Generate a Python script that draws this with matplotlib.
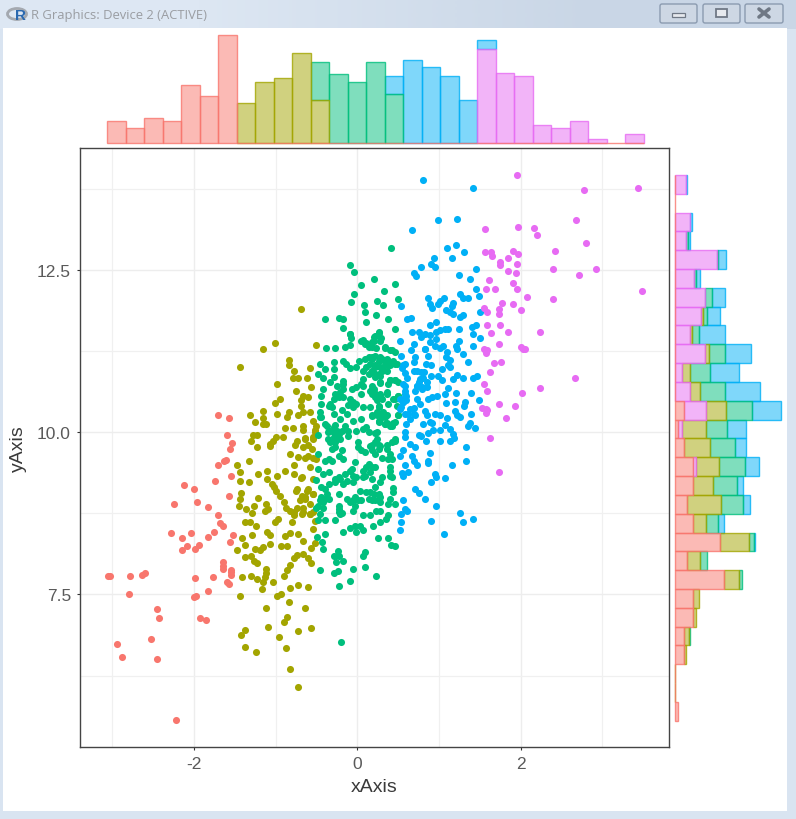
import numpy as np
from matplotlib import pyplot as plt
from matplotlib.colors import to_rgba, LinearSegmentedColormap
from matplotlib.patches import Rectangle, FancyBboxPatch, Ellipse

plt.rcParams['font.family'] = ['Liberation Sans', 'DejaVu Sans']
plt.rcParams['axes.unicode_minus'] = False

# groups, ggplot hue colours
colors = {"red": "#F8766D", "olive": "#A3A500", "green": "#00BF7D", "blue": "#00B0F6", "pink": "#E76BF3"}

red_pts = [(-3.05,7.79),(-3.03,7.79),(-2.78,7.79),(-2.64,7.80),(-2.60,7.83),(-2.80,7.50),(-2.45,7.27),(-2.43,7.14),(-2.94,6.73),(-2.88,6.54),
 (-2.53,6.81),(-2.45,6.50),(-2.22,5.56),(-1.93,7.14),(-1.85,7.10),(-2.00,7.46),(-1.97,7.48),(-1.83,7.56),(-1.99,7.75),(-1.77,7.77),
 (-1.59,7.70),(-1.57,7.66),(-1.54,7.87),(-1.54,7.80),(-1.54,7.84),(-1.64,8.00),(-1.64,7.90),(-1.64,7.94),(-2.15,8.18),(-2.08,8.24),
 (-1.99,8.20),(-1.94,8.26),(-2.15,8.37),(-2.28,8.45),(-2.03,8.45),(-1.83,8.39),(-1.76,8.47),(-1.56,8.31),(-1.52,8.41),(-1.64,8.55),
 (-1.68,8.60),(-1.71,8.72),(-2.24,8.89),(-1.96,8.93),(-1.83,8.85),(-1.57,9.02),(-2.12,9.18),(-2.00,9.12),(-1.74,9.25),(-1.54,9.33),
 (-1.71,9.49),(-1.63,9.56),(-1.61,9.58),(-1.56,9.74),(-1.70,10.26),(-1.57,10.22),(-1.59,9.95),(-1.53,9.84)]

olive_pts = [(-1.47,9.49),(-1.44,9.39),(-1.44,9.25),(-1.33,9.55),(-1.33,9.24),(-1.21,9.35),(-1.10,9.41),(-1.10,9.28),(-0.98,9.33),(-0.89,9.41),
 (-0.82,9.67),(-0.72,9.62),(-0.78,9.49),(-0.78,9.35),(-0.69,9.29),(-1.05,9.20),(-1.02,9.15),(-0.99,9.10),(-1.42,9.07),(-1.45,8.87),
 (-1.44,8.97),(-1.36,8.81),(-1.29,8.76),(-1.27,8.87),(-1.22,8.99),(-1.12,8.90),(-1.13,8.78),(-1.09,8.82),(-0.95,9.01),(-0.90,8.92),
 (-0.87,8.84),(-0.82,8.79),(-0.78,8.77),(-0.74,8.84),(-0.70,8.95),(-0.64,9.00),(-0.60,9.13),(-0.74,9.13),(-0.75,9.09),(-0.54,9.05),
 (-0.58,8.74),(-0.66,8.77),(-0.78,8.72),(-0.80,8.62),(-0.97,8.66),(-1.01,8.62),(-1.38,8.62),(-1.31,8.62),(-1.24,8.55),(-1.29,8.42),
 (-1.10,8.46),(-1.07,8.41),(-1.41,8.37),(-1.38,8.27),(-1.47,8.18),(-1.25,8.20),(-1.19,8.18),(-1.15,8.23),(-1.07,8.28),(-0.93,8.24),
 (-0.86,8.24),(-0.89,8.40),(-0.82,8.45),(-0.72,8.43),(-0.66,8.33),(-0.54,8.51),(-0.52,8.30),(-0.57,8.21),(-0.78,8.06),(-0.74,8.11),
 (-0.67,8.12),(-0.60,8.07),(-0.57,7.98),(-1.38,8.08),(-1.30,8.09),(-1.27,8.02),(-1.23,7.98),(-1.12,7.90),(-1.12,7.83),(-1.41,7.77),
 (-1.30,7.78),(-1.23,7.74),(-1.13,7.77),(-1.16,7.69),(-1.17,7.59),(-1.03,7.69),(-0.90,7.79),(-0.86,7.87),(-0.82,7.96),(-0.82,7.60),
 (-0.73,7.64),(-0.60,7.62),(-1.44,7.48),(-0.98,7.47),(-0.93,7.51),(-0.84,7.39),(-1.12,7.29),(-0.64,7.29),(-0.86,7.16),(-0.90,7.08),
 (-1.09,7.00),(-0.72,6.94),(-0.57,6.98),(-1.38,6.96),(-1.42,6.87),(-0.96,6.85),(-1.38,6.69),(-1.24,6.62),(-0.87,6.67),(-0.82,6.35),
 (-0.73,6.08),
 (-0.69,11.90),(-1.01,11.38),(-1.15,11.28),(-0.51,11.34),(-1.44,11.01),(-0.84,11.11),(-0.83,11.04),(-0.78,10.95),(-0.58,10.99),(-0.79,10.84),
 (-0.72,10.84),(-0.61,10.84),(-0.98,10.74),(-0.57,10.70),(-0.75,10.63),(-0.95,10.51),(-1.01,10.45),(-0.67,10.56),(-0.60,10.55),(-0.69,10.49),
 (-0.69,10.41),(-1.16,10.33),(-0.98,10.28),(-1.31,10.26),(-1.16,10.22),(-1.25,10.16),(-1.16,10.12),(-1.12,10.12),(-0.84,10.31),(-0.86,10.23),
 (-0.72,10.27),(-0.66,10.31),(-0.58,10.31),(-0.54,10.18),(-0.51,10.10),(-0.67,10.10),(-0.67,10.04),(-0.89,10.07),(-0.79,10.07),(-0.52,10.00),
 (-0.54,9.90),(-0.64,9.91),(-1.23,9.96),(-1.28,9.95),(-1.30,9.86),(-1.07,9.82),(-0.99,9.92),(-0.91,9.92),(-1.03,9.86),(-0.74,9.87),
 (-0.76,9.80),(-0.60,9.81),(-1.23,9.77),(-1.07,9.79),
 (-0.52,10.03),(-0.54,9.92),(-0.64,9.90),(-0.66,9.77),(-0.56,9.74),(-0.60,9.64),(-0.54,9.61),(-0.64,9.61),(-0.50,9.59),(-0.58,9.46),
 (-0.68,9.31),(-0.54,9.28),(-0.62,9.10),(-0.54,9.05),(-0.68,9.02),(-0.64,8.97),(-0.66,8.84),(-0.58,8.90),(-0.58,8.74),(-0.68,8.74),
 (-0.54,8.77),(-0.52,8.64)]

green_pts = [(-0.09,12.57),(-0.04,12.47),(0.21,12.36),(0.05,12.27),(-0.04,12.13),(-0.08,12.01),(0.08,11.96),(0.09,11.86),(0.24,12.03),(0.23,11.80),
 (-0.39,11.74),(-0.23,11.76),(-0.18,11.74),(0.11,11.70),(-0.18,11.61),(-0.09,11.52),(-0.08,11.45),(0.07,11.42),(0.11,11.38),(0.22,11.49),
 (0.26,11.53),(0.20,11.40),(-0.38,11.30),(-0.27,11.30),(-0.15,11.32),(-0.09,11.34),(0.18,11.31),(0.23,11.30),
 (0.41,12.84),(0.46,12.28),(0.33,12.17),(0.50,12.05),(0.32,11.96),(0.37,11.74),(0.46,11.59),(0.29,11.45),(0.34,11.30),(0.40,11.26),
 (0.46,11.24),(0.18,11.16),(0.28,11.16),(0.36,11.13),(0.44,11.10),(0.48,11.05),(0.38,11.03),(0.22,11.03),(0.30,10.97),(0.18,10.95),
 (0.28,10.87),(0.20,10.92),(0.40,10.80),(0.46,10.80),(0.50,10.77),(0.28,10.76),(0.38,10.74),(0.20,10.67),(0.18,10.59),(0.28,10.59),
 (0.36,10.59),(0.44,10.51),(0.50,10.56),(0.24,10.49),(0.38,10.44),(0.48,10.41),(0.26,10.41),(0.32,10.31),(0.18,10.26),(0.24,10.26),
 (0.36,10.26),(0.50,10.26),(0.26,10.16),(0.34,10.13),(0.42,10.10),(0.46,10.16),(0.22,9.99),(0.46,9.90),(0.42,9.85),(0.26,9.80),
 (0.18,9.80),(0.36,9.80),
 (-0.46,11.05),(-0.40,10.97),(-0.29,11.09),(-0.17,11.10),(-0.14,11.05),(0.02,11.10),(-0.28,10.97),(-0.48,10.90),(-0.42,10.84),(-0.09,10.99),
 (-0.01,11.00),(-0.29,10.85),(-0.33,10.77),(-0.17,10.79),(0.07,10.95),(0.07,10.82),(-0.25,10.71),(-0.17,10.67),(-0.07,10.67),(-0.01,10.69),
 (0.07,10.71),(-0.42,10.66),(-0.44,10.56),(-0.27,10.59),(-0.23,10.54),(-0.17,10.54),(0.05,10.59),(0.18,10.72),(0.20,10.62),(-0.09,10.51),
 (-0.45,10.44),(-0.33,10.44),(-0.31,10.39),(-0.11,10.42),(-0.01,10.44),(-0.05,10.39),(0.07,10.39),(0.16,10.39),(-0.19,10.35),(-0.46,10.31),
 (-0.29,10.28),(-0.13,10.28),(-0.44,10.23),(-0.21,10.21),(-0.05,10.18),(0.05,10.21),(0.18,10.25),(-0.37,10.10),(-0.27,10.11),(-0.15,10.10),
 (0.11,10.08),(-0.33,10.02),(-0.19,10.02),(-0.01,10.02),(-0.48,9.95),(-0.25,9.95),(-0.11,9.94),(0.24,10.00),
 (0.14,11.31),(0.18,11.39),(0.26,11.54),(0.20,11.46),(-0.09,11.51),(0.05,11.41),(0.09,11.36),(0.28,11.41),(0.34,11.31),(0.42,11.26),
 (0.14,11.16),(0.22,11.18),(0.30,11.13),(0.38,11.10),(0.46,11.05),(0.16,11.05),(0.22,11.00),(0.32,11.00),(0.40,11.03),(0.14,10.90),
 (0.26,10.90),(0.30,10.95),(0.40,10.80),(0.46,10.80),(0.28,10.77),(0.36,10.62),(0.26,10.56),(0.30,10.51),(0.46,10.51),(0.50,10.56),
 (0.26,10.39),(0.28,10.28),(0.34,10.23),(0.50,10.26),(0.44,10.15),(0.34,10.13),(0.24,10.28),
 (-0.36,10.00),(-0.29,9.92),(-0.21,9.90),(-0.33,9.85),(-0.27,9.77),(-0.19,9.72),(-0.17,9.59),(-0.31,9.56),(-0.40,9.56),(-0.48,9.67),
 (0.01,9.85),(0.05,9.72),(0.16,9.79),(0.22,9.67),(0.28,9.79),(0.14,10.00),(0.24,9.90),(0.36,9.74),(0.46,9.87),(0.42,9.59),
 (0.30,9.61),(-0.03,9.54),(0.14,9.51),(0.22,9.46),(0.07,9.41),(0.40,9.46),(-0.48,9.43),(-0.35,9.38),(-0.09,9.41),(-0.15,9.36),
 (-0.23,9.31),(-0.42,9.36),(-0.50,9.26),(-0.27,9.23),(-0.01,9.31),(0.09,9.33),(0.18,9.28),(0.30,9.31),(0.40,9.33),(-0.05,9.23),
 (0.28,9.23),(-0.35,9.20),(-0.44,9.15),(-0.17,9.20),(0.22,9.15),(0.03,9.10),(0.44,9.14),(-0.23,9.05),(-0.37,9.05),(0.11,9.08),
 (0.26,9.05),(0.44,9.08),(-0.46,8.95),(-0.35,8.97),(-0.13,8.97),(-0.03,9.00),(0.14,8.97),(-0.09,8.92),(0.05,8.95),(0.22,8.95),
 (0.40,8.97),(0.28,8.92),(-0.42,8.84),(-0.50,8.84),(-0.23,8.87),(-0.03,8.87),(0.46,8.90),(0.38,8.90),(-0.05,8.79),(-0.23,8.77),
 (-0.19,8.76),(-0.46,8.74),(0.07,8.73),(0.16,8.73),(0.23,8.78),(0.28,8.79),(0.37,8.73),(0.35,8.66),(-0.40,8.65),(-0.48,8.65),
 (-0.27,8.65),(0.28,8.61),(0.19,8.56),(-0.09,8.53),(-0.03,8.56),(0.03,8.56),(0.07,8.50),(-0.17,8.47),(-0.02,8.46),(-0.40,8.43),
 (-0.49,8.39),(0.25,8.37),(0.37,8.37),(-0.43,8.31),(-0.42,8.20),(0.41,8.26),(0.46,8.24),(-0.24,8.17),(-0.29,8.09),(-0.23,8.10),
 (0.10,8.16),(0.07,8.10),(-0.17,8.02),(-0.26,8.00),(0.09,7.93),(-0.05,7.89),(-0.24,7.86),(-0.29,7.83),(-0.46,7.87),(0.23,7.78),
 (-0.09,7.71),(-0.23,7.63),(-0.20,6.77),
 (0.09,11.13),(0.18,11.13),(0.26,11.10),(0.34,11.08),(0.11,11.00),(0.28,11.00),(0.36,10.95),(0.18,10.95),(0.22,10.85),(0.05,10.74),
 (0.16,10.64),(0.22,10.54),(0.28,10.56),(0.18,10.67),(-0.17,10.74),(-0.21,10.62),(-0.29,10.51),(-0.35,10.41),(0.24,10.31),(0.30,10.23),
 (0.36,10.15),(0.26,10.18),(0.40,10.10),(-0.05,10.46),(-0.46,10.23),(-0.40,10.13),(-0.29,10.08),(-0.25,10.02),(0.07,10.05),(-0.11,10.02),
 (-0.29,10.00),(-0.23,9.97),(-0.36,9.90),(-0.27,9.85),(-0.31,9.74),(-0.23,9.64),(-0.35,9.59),(0.01,9.77),(0.09,9.69),(0.18,9.72),
 (0.26,9.74),(0.22,9.85),(0.40,9.67),(0.38,9.59),(0.11,9.46),(0.18,9.46),(0.16,9.38),(0.07,9.31),(-0.07,9.43),(-0.05,9.33),
 (-0.13,9.25),(-0.21,9.28),(-0.27,9.28),(-0.40,9.13),(-0.44,9.00),(-0.40,8.97),(-0.42,8.92),(-0.48,8.87),(-0.05,8.95),(0.01,8.95),
 (0.16,9.08),(0.20,9.05),(0.18,8.95),(0.26,8.95),(0.28,9.00),(0.40,9.41),(0.42,9.31),(-0.23,8.82),(-0.21,8.74)]

blue_pts = [(0.81,13.88),(1.41,13.76),(0.99,13.27),(1.22,13.28),(0.67,13.11),(1.10,12.84),(1.21,12.88),(1.30,12.78),(0.94,12.69),(1.16,12.69),
 (0.78,12.55),(0.90,12.59),(0.95,12.55),(1.45,12.51),(0.69,12.46),(0.72,12.40),(1.24,12.43),(1.38,12.36),(1.45,12.21),(0.87,12.07),
 (1.06,12.07),(1.26,12.13),(1.29,12.07),(1.36,12.07),(1.49,12.10),(0.53,11.94),(0.89,11.98),(0.92,11.92),(0.99,11.97),(1.01,12.02),
 (1.17,11.99),(1.16,11.94),(1.09,11.88),(1.13,11.85),(1.17,11.82),(1.26,11.78),(1.29,11.80),(1.50,11.86),(0.61,11.74),(0.66,11.76),
 (0.96,11.70),(0.89,11.65),(1.45,11.66),(1.40,11.62),(1.07,11.59),(1.11,11.59),(1.01,11.57),(1.24,11.59),(0.67,11.55),(0.75,11.54),
 (0.78,11.47),(0.83,11.52),(0.89,11.50),(0.96,11.55),(1.41,11.52),(1.50,11.45),(0.52,11.40),(0.69,11.36),(0.89,11.39),(0.96,11.44),
 (0.95,11.33),(1.01,11.30),(1.05,11.33),(1.24,11.40),(1.21,11.33),(1.22,11.28),(1.41,11.33),(0.66,11.26),(0.83,11.28),(1.10,11.24),
 (1.29,11.20),(0.53,11.17),(0.71,11.16),(0.87,11.17),(1.09,11.16),(0.69,11.08),(0.84,11.05),(0.90,11.03),(1.13,11.11),(1.11,11.03),
 (1.36,11.09),(0.58,11.05),(0.55,10.99),(1.04,10.97),(1.13,11.00),(0.69,10.95),(0.78,10.93),(0.82,10.93),(0.58,10.91),(0.61,10.84),
 (0.90,10.87),(0.99,10.86),(1.22,10.88),(1.17,10.82),(1.29,10.83),(1.41,10.84),(1.47,10.86),(0.81,10.83),(0.75,10.77),(0.85,10.77),
 (1.04,10.80),(0.56,10.74),(0.73,10.71),(0.79,10.69),(0.58,10.64),(0.71,10.64),(0.85,10.69),(1.11,10.68),(1.07,10.59),(1.21,10.60),
 (1.39,10.60),(0.87,10.51),(0.92,10.54),(0.97,10.56),(0.58,10.54),(0.60,10.49),(0.73,10.51),(0.56,10.46),(0.77,10.44),(1.09,10.45),
 (1.20,10.47),(1.32,10.47),(1.49,10.49),(1.31,10.41),(0.52,10.36),(0.69,10.38),(0.83,10.33),(1.20,10.33),(0.62,10.28),(0.71,10.26),
 (0.85,10.27),(0.95,10.28),(1.01,10.27),(1.10,10.22),(1.22,10.27),(1.26,10.23),(1.39,10.28),(0.65,10.20),(0.89,10.16),(0.92,10.14),
 (0.80,10.12),(1.07,10.11),(1.38,10.14),(1.35,10.09),(1.44,10.07),(1.14,10.05),(0.93,10.03),(1.01,10.04),(0.86,9.99),(0.58,10.01),
 (1.17,9.97),(0.58,9.92),(0.76,9.95),(0.78,9.94),(1.18,9.91),(0.84,9.87),(1.01,9.86),(1.13,9.86),(0.64,9.82),(0.71,9.77),
 (1.33,9.77),(0.56,9.72),(0.52,9.64),(0.67,9.63),(0.69,9.56),(0.73,9.50),(0.89,9.68),(0.87,9.56),(0.86,9.53),(1.16,9.49),
 (1.33,9.56),(0.58,9.49),(0.55,9.37),(0.62,9.39),(0.56,9.32),(0.95,9.36),(0.96,9.31),(0.90,9.24),(1.07,9.30),(0.71,9.12),
 (0.75,9.07),(0.83,8.97),(0.56,8.95),(0.96,8.87),(0.58,8.82),(0.61,8.79),(0.53,8.74),(0.53,8.62),(0.90,8.64),(1.26,8.76),
 (1.29,8.62),(1.42,8.66),(0.52,8.50),(1.06,8.43),
 (0.56,11.03),(0.58,10.72),(0.60,10.56),(0.56,10.46),(0.64,10.36),(0.73,10.72),(0.79,10.67),(0.70,10.28),(0.52,10.51),(0.77,10.82),
 (0.83,11.28),(0.73,10.95),(0.58,10.59),(0.54,10.39),(0.58,10.28),(0.60,10.13)]

pink_pts = [(1.96,13.96),(2.78,13.73),(3.43,13.76),(2.68,13.27),(1.56,13.13),(1.97,13.17),(2.16,13.15),(2.20,13.04),(2.80,12.92),(2.42,12.80),
 (1.56,12.78),(1.64,12.78),(1.65,12.71),(1.84,12.69),(1.91,12.80),(1.97,12.75),(1.75,12.63),(1.75,12.57),(1.96,12.59),(1.85,12.48),
 (1.94,12.45),(2.39,12.51),(2.92,12.51),(2.71,12.42),(1.61,12.34),(1.91,12.30),(1.57,12.20),(1.68,12.20),(1.96,12.20),(3.49,12.17),
 (2.08,12.09),(2.39,12.05),(1.77,11.99),(1.90,11.97),(1.55,11.91),(1.73,11.90),(1.59,11.86),(1.73,11.82),(2.00,11.88),(1.59,11.65),
 (1.75,11.65),(1.64,11.53),(1.85,11.55),(2.24,11.55),(1.73,11.36),(1.55,11.28),(1.59,11.26),(1.57,11.22),(2.00,11.32),(2.03,11.28),
 (2.05,11.28),(1.67,11.07),(1.76,11.09),(1.62,10.93),(2.66,10.84),(2.24,10.68),(1.55,10.74),(1.59,10.63),(2.02,10.61),(1.73,10.43),
 (1.93,10.40),(1.53,10.37),(1.57,10.36),(1.59,10.35),(1.57,10.30),(1.82,10.22),(1.62,9.91),(1.74,9.39)]

# top marginal, counts per bin (left to right)
top_start = -3.06
top_width = 0.2265
top_red   = [6, 4, 7, 6, 16, 13, 30, 0, 0, 0, 0, 0, 0, 0, 0, 0, 0, 0, 0, 0, 0, 0, 0, 0, 0, 0, 0, 0, 0]
top_pink  = [0, 0, 0, 0, 0, 0, 0, 0, 0, 0, 0, 0, 0, 0, 0, 0, 0, 0, 0, 0, 26, 19.5, 18.5, 5, 4, 6, 1, 0, 2.5]
top_olive = [0, 0, 0, 0, 0, 0, 0, 11, 17, 18, 25, 12, 0, 0, 0, 0, 0, 0, 0, 0, 0, 0, 0, 0, 0, 0, 0, 0, 0]
top_green = [0, 0, 0, 0, 0, 0, 0, 0, 0, 0, 0, 10.5, 19, 17, 22.5, 13.5, 0, 0, 0, 0, 0, 0, 0, 0, 0, 0, 0, 0, 0]
top_blue  = [0, 0, 0, 0, 0, 0, 0, 0, 0, 0, 0, 0, 0, 0, 0, 5, 23, 21, 18.5, 12, 2.5, 0, 0, 0, 0, 0, 0, 0, 0]

# right marginal, counts per bin (top to bottom)
right_start = 13.965
right_width = 0.29
right_red   = [0, 0, 0, 0, 0, 0, 0, 0, 0, 0, 0, 0, 2.5, 1, 2.5, 5, 5, 3.5, 5, 12.6, 3.5, 13.6, 5, 5, 2.5, 2.5, 0, 0, 1]
right_pink  = [3.1, 0, 4.3, 3.2, 11.7, 5.4, 8.4, 7.4, 4.3, 8.4, 2.1, 4.3, 6.2, 1.1, 0, 1, 0, 0, 0, 0, 0, 0, 0, 0, 0, 0, 0, 0, 0]
right_olive = [0, 0, 0, 0, 0, 0, 0, 0.4, 0.5, 1.1, 2.1, 2.8, 5.6, 6.7, 7.3, 6.2, 5.5, 9.4, 3.8, 8, 3.5, 4.2, 1.7, 1, 1.4, 0.7, 0.2, 0.2, 0]
right_green = [0, 0, 0, 0.5, 0.2, 0.6, 1.9, 1.3, 1.9, 4.4, 5.6, 6.9, 7.2, 5.6, 6.9, 7.3, 6.7, 6.2, 3.1, 1.4, 2, 1, 0, 0, 0.4, 0, 0, 0, 0]
right_blue  = [0.4, 0, 0.6, 0.6, 2.4, 1.1, 3.7, 3.5, 7.3, 7.2, 8, 9.7, 7.9, 5.5, 3.1, 3.8, 1.7, 1.8, 1.8, 0.4, 0, 0, 0, 0, 0, 0, 0, 0, 0]

W, H = 796, 820
px_per_count = 3.6


def px_rect(left, top, right, bottom):
    return [left / W, 1 - bottom / H, (right - left) / W, (bottom - top) / H]


fig = plt.figure(figsize=(W / 100, H / 100), dpi=100)

# window frame
bg = fig.add_axes([0, 0, 1, 1], zorder=-1)
frame_cmap = LinearSegmentedColormap.from_list("frame", ["#dde7f3", "#c9d6e6"])
bg.imshow([[0.0, 1.0]], extent=(0, W, H, 0), aspect="auto", cmap=frame_cmap, interpolation="bilinear")
bg.set_xlim(0, W)
bg.set_ylim(H, 0)
bg.axis("off")
bg.add_patch(Rectangle((0, 30), W, H - 30, fc="#d9e4f1", ec="none"))
bg.add_patch(Rectangle((3, 29), 784, 783, fc="white", ec="none"))
for x0, x1 in [(660, 697), (703, 740), (745, 783)]:
    bg.add_patch(FancyBboxPatch((x0, 5), x1 - x0, 19, boxstyle="round,pad=0,rounding_size=2", fc="#cdd7e4", ec="#8b9bb0", lw=1))
bg.add_patch(Rectangle((672, 14), 13, 4, fc="#e6e9ee", ec="#6f7885", lw=0.9))
bg.add_patch(Rectangle((716, 10), 11, 8, fc="#e6e9ee", ec="#6f7885", lw=1.3))
bg.plot([759, 769], [10, 18], color="#6f7885", lw=2.6, solid_capstyle="round")
bg.plot([759, 769], [18, 10], color="#6f7885", lw=2.6, solid_capstyle="round")
bg.add_patch(Ellipse((17, 15), 19, 11, fc="none", ec="#a4a9b0", lw=2))
bg.text(20, 16.5, "R", color="#2a69b0", fontsize=11, fontweight="bold", ha="center", va="center")
bg.text(31, 15.5, "R Graphics: Device 2 (ACTIVE)", color="#9a9da2", fontsize=9.4, family="Open Sans", va="center")

# main scatter
ax = fig.add_axes(px_rect(80, 149, 669, 748))
for name, pts in [("red", red_pts), ("olive", olive_pts), ("green", green_pts), ("blue", blue_pts), ("pink", pink_pts)]:
    x = [p[0] for p in pts]
    y = [p[1] for p in pts]
    ax.scatter(x, y, s=26, color=colors[name], linewidths=0, zorder=3)
ax.set_xlim(-3.394, 3.815)
ax.set_ylim(5.15, 14.38)
ax.set_xticks([-2, 0, 2])
ax.set_xticklabels(["-2", "0", "2"])
ax.set_yticks([7.5, 10, 12.5])
ax.set_yticklabels(["7.5", "10.0", "12.5"])
ax.set_xticks([-3, -1, 1, 3], minor=True)
ax.set_yticks([6.25, 8.75, 11.25, 13.75], minor=True)
ax.grid(True, which="major", color="#ededed", lw=1.0, zorder=0)
ax.grid(True, which="minor", color="#f0f0f0", lw=0.9, zorder=0)
ax.set_axisbelow(True)
ax.tick_params(which="major", length=2.5, width=0.8, color="#333333", labelcolor="#5a5a5a", labelsize=12.5, pad=4)
ax.tick_params(which="minor", length=0)
for s in ax.spines.values():
    s.set_color("#444444")
    s.set_linewidth(1.0)
ax.set_xlabel("xAxis", fontsize=14, labelpad=5, color="#3a3a3a")
ax.set_ylabel("yAxis", fontsize=14, labelpad=7, color="#3a3a3a")

# marginals, stacked red / pink / olive / green / blue from the baseline
stack_names = ["red", "pink", "olive", "green", "blue"]
top_vals = np.array([top_red, top_pink, top_olive, top_green, top_blue], dtype=float)
right_vals = np.array([right_red, right_pink, right_olive, right_green, right_blue], dtype=float)

ax_top = fig.add_axes(px_rect(80, 30, 669, 143.7))
ax_top.set_xlim(ax.get_xlim())
ax_top.set_ylim(0, 113.7 / px_per_count)
ax_top.axis("off")
x_left = top_start + top_width * np.arange(top_vals.shape[1])
bottoms = np.cumsum(np.vstack([np.zeros(top_vals.shape[1]), top_vals[:-1]]), axis=0)
for i in reversed(range(5)):
    c = colors[stack_names[i]]
    # empty bins only drawn for the red group, they make the baseline
    vals = top_vals[i] if i == 0 else np.where(top_vals[i] > 0, top_vals[i], np.nan)
    ax_top.bar(x_left, vals, width=top_width, bottom=bottoms[i], align="edge",
               facecolor=to_rgba(c, 0.5), edgecolor=to_rgba(c, 0.8), linewidth=1, clip_on=False)

ax_right = fig.add_axes(px_rect(674.7, 149, 788, 748))
ax_right.set_ylim(ax.get_ylim())
ax_right.set_xlim(0, 113.3 / px_per_count)
ax_right.axis("off")
y_top = right_start - right_width * np.arange(right_vals.shape[1])
lefts = np.cumsum(np.vstack([np.zeros(right_vals.shape[1]), right_vals[:-1]]), axis=0)
for i in reversed(range(5)):
    c = colors[stack_names[i]]
    vals = right_vals[i] if i == 0 else np.where(right_vals[i] > 0, right_vals[i], np.nan)
    ax_right.barh(y_top, vals, height=-right_width, left=lefts[i], align="edge",
                  facecolor=to_rgba(c, 0.5), edgecolor=to_rgba(c, 0.8), linewidth=1, clip_on=False)

fig.savefig("out.png", dpi=100)
